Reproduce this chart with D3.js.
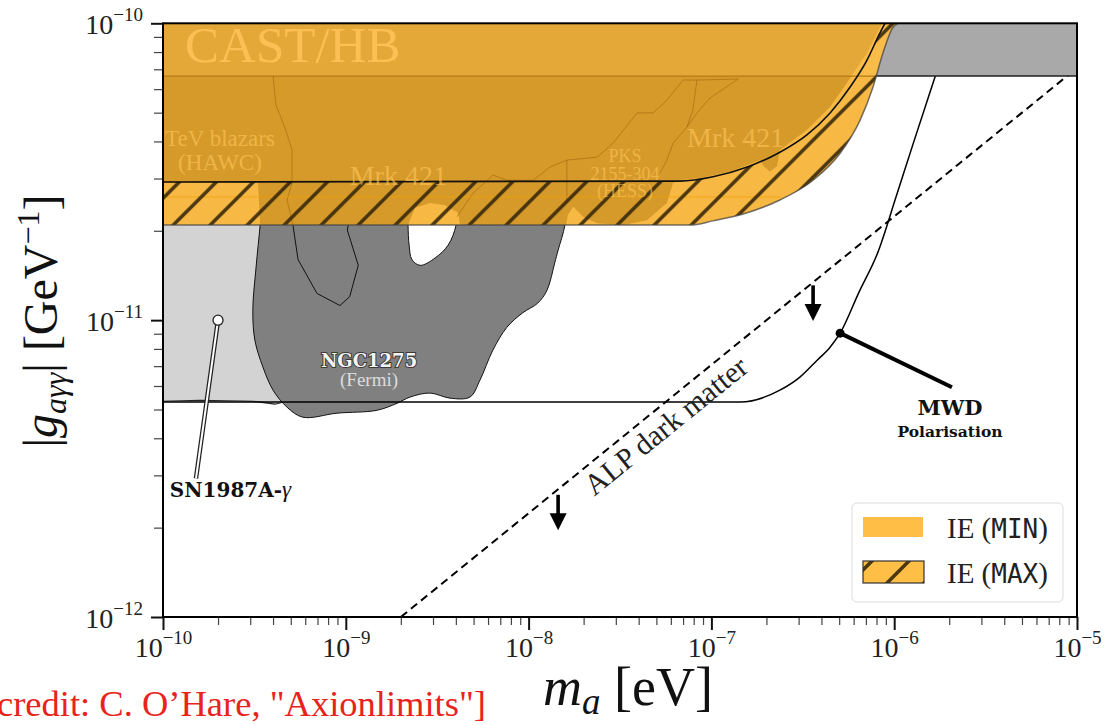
<!DOCTYPE html>
<html>
<head>
<meta charset="utf-8">
<script src="https://cdnjs.cloudflare.com/ajax/libs/d3/7.8.5/d3.min.js"></script>
<style>
    body { margin: 0; background: #fff; }
</style>
</head>
<body>
<div class="canvas"></div>
<script>
// ---- data (mass in eV, coupling in GeV^-1) ----
const xMajorTicks = [1e-10, 1e-9, 1e-8, 1e-7, 1e-6, 1e-5];
const xTickLabels = ['−10', '−9', '−8', '−7', '−6', '−5'];
const yMajorTicks = [1e-12, 1e-11, 1e-10];
const yTickLabels = ['−12', '−11', '−10'];

// CAST / HB band lower edge
const castCoupling = 6.64e-11;

// IE (MAX) lower boundary
const maxMass = [1e-10, 7.63e-8, 1.02e-7, 1.57e-7, 2.37e-7, 3.6e-7, 5.06e-7, 6.51e-7, 7.66e-7, 8.68e-7, 9.85e-7, 1.05e-6];
const maxCoupling = [2.09e-11, 2.09e-11, 2.16e-11, 2.3e-11, 2.54e-11, 2.96e-11, 3.65e-11, 4.72e-11, 6.1e-11, 7.94e-11, 9.7e-11, 1e-10];

// IE (MIN) lower boundary
const minMass = [1e-10, 6.73e-8, 1.02e-7, 1.57e-7, 2.37e-7, 3.33e-7, 4.46e-7, 5.74e-7, 7.1e-7, 8.36e-7, 8.91e-7];
const minCoupling = [2.92e-11, 2.94e-11, 3.04e-11, 3.28e-11, 3.68e-11, 4.21e-11, 4.99e-11, 6.1e-11, 7.52e-11, 9.28e-11, 1e-10];

// older blazar bounds sitting under the IE regions
const blazarMass = [1e-10, 8.58e-7, 8.36e-7, 7.1e-7, 5.52e-7, 4.46e-7, 3.33e-7, 2.37e-7, 2.29e-7, 2.09e-7, 1.92e-7, 1.85e-7,
    1.26e-7, 8.67e-8, 6.73e-8, 6.17e-8, 5.71e-8, 4.44e-8, 3.28e-8, 2.37e-8, 1.99e-8, 1.75e-8, 1.64e-8, 1.6e-8,
    4.22e-9, 4.11e-9, 3.49e-9, 2.89e-9, 2.39e-9, 2.19e-9, 3.4e-10, 3.31e-10, 1e-10];
const blazarCoupling = [1e-10, 1e-10, 9.7e-11, 7.94e-11, 6.3e-11, 5.22e-11, 4.37e-11, 3.74e-11, 3.31e-11, 3.16e-11, 3.31e-11, 3.46e-11,
    3.16e-11, 3.01e-11, 2.96e-11, 2.9e-11, 2.48e-11, 2.17e-11, 2.09e-11, 2.12e-11, 2.23e-11, 2.41e-11, 2.26e-11, 2.09e-11,
    2.09e-11, 2.3e-11, 2.44e-11, 2.48e-11, 2.39e-11, 2.09e-11, 2.09e-11, 2.9e-11, 2.9e-11];

const hawcMass = [4.0e-10, 4.15e-10, 4.65e-10, 5.08e-10, 5.08e-10, 4.77e-10, 5.14e-10, 5.48e-10, 6.96e-10, 9.29e-10, 1.05e-9, 1.17e-9, 1.02e-9, 1.03e-9];
const hawcCoupling = [6.64e-11, 5.31e-11, 4.44e-11, 3.74e-11, 2.9e-11, 2.54e-11, 2.09e-11, 1.6e-11, 1.23e-11, 1.12e-11, 1.2e-11, 1.53e-11, 2.01e-11, 2.09e-11];

const pksMass = [4.06e-9, 4.97e-9, 6.38e-9, 7.61e-9, 1.06e-8, 1.31e-8, 1.62e-8, 2.37e-8, 2.9e-8, 3.92e-8, 4.8e-8, 5.71e-8, 7.0e-8, 8.34e-8, 1.4e-7];
const pksCoupling = [2.23e-11, 2.68e-11, 3.08e-11, 2.96e-11, 2.96e-11, 3.28e-11, 3.46e-11, 3.54e-11, 3.95e-11, 4.99e-11, 4.99e-11, 5.51e-11, 6.44e-11, 6.44e-11, 6.49e-11];
const mrkMass = [1.4e-7, 9.82e-8, 8.34e-8, 7.35e-8, 6.17e-8, 5.71e-8, 5.24e-8];
const mrkCoupling = [6.49e-11, 5.6e-11, 4.99e-11, 4.47e-11, 3.95e-11, 3.46e-11, 3.13e-11];
const mrkStemMass = [8.34e-8, 7.92e-8, 7.35e-8];
const mrkStemCoupling = [6.44e-11, 5.11e-11, 4.47e-11];
const pksStemMass = [1.62e-8, 1.62e-8];
const pksStemCoupling = [3.46e-11, 2.48e-11];

// SN1987A gamma
const snMass = [1e-10, 4.95e-10, 4.95e-10, 4.1e-10, 3.1e-10, 1.59e-10, 1e-10];
const snCoupling = [1e-10, 1e-10, 5.37e-12, 5.21e-12, 5.33e-12, 5.37e-12, 5.33e-12];

// NGC1275 (Fermi)
const ngcMass = [3.48e-10, 3.4e-10, 3.23e-10, 3.1e-10, 3.18e-10, 3.52e-10, 4.0e-10, 4.77e-10, 5.83e-10, 8.95e-10, 1.48e-9,
    1.91e-9, 2.25e-9, 2.89e-9, 3.72e-9, 4.78e-9, 5.42e-9, 6.38e-9, 7.61e-9, 9.31e-9, 1.12e-8, 1.26e-8, 1.39e-8, 1.45e-8, 1.58e-8, 1.62e-8];
const ngcCoupling = [2.54e-11, 2.09e-11, 1.51e-11, 1.08e-11, 8.57e-12, 6.95e-12, 5.81e-12, 5.09e-12, 4.71e-12, 4.86e-12, 4.97e-12,
    5.25e-12, 5.51e-12, 5.68e-12, 5.46e-12, 5.51e-12, 6.28e-12, 7.93e-12, 9.46e-12, 1.06e-11, 1.14e-11, 1.26e-11, 1.56e-11, 1.72e-11, 2.09e-11, 2.54e-11];
const ngcHoleMass = [2.19e-9, 2.19e-9, 2.22e-9, 2.3e-9, 2.55e-9, 3.08e-9, 3.63e-9, 4.01e-9, 4.11e-9];
const ngcHoleCoupling = [2.54e-11, 2.09e-11, 1.79e-11, 1.6e-11, 1.53e-11, 1.62e-11, 1.79e-11, 2.09e-11, 2.54e-11];

// MWD polarisation
const mwdMass = [1e-10, 1.44e-7, 2.37e-7, 3.05e-7, 3.79e-7, 4.46e-7, 5.06e-7, 6.42e-7, 8.15e-7, 1.023e-6, 1.283e-6, 1.672e-6, 2.087e-6];
const mwdCoupling = [5.3e-12, 5.3e-12, 5.81e-12, 6.43e-12, 7.33e-12, 8.11e-12, 9.04e-12, 1.243e-11, 1.695e-11, 2.598e-11, 4.01e-11, 6.59e-11, 1e-10];
const mwdPoint = [5.06e-7, 9.04e-12];

// ALP dark matter line and arrows
const alpMass = [2e-9, 1e-5];
const alpCoupling = [1e-12, 7.07e-11];
const arrowMass = [1.45e-8, 3.6e-7];
const arrowTop = [2.58e-12, 1.31e-11];
const arrowTip = [1.96e-12, 9.93e-12];

const legendLabels = ['MIN', 'MAX'];

// ---- layout ----
const serif = "'Liberation Serif', 'Times New Roman', serif";
const boldSerif = "'DejaVu Serif', serif";

const svg = d3.select('.canvas')
    .append('svg')
    .attr('width', 1105)
    .attr('height', 725);

const margin = { top: 23.3, right: 28, bottom: 108, left: 163 };
const graphWidth = 1105 - margin.left - margin.right;
const graphHeight = 725 - margin.top - margin.bottom;

const x = d3.scaleLog().domain([1e-10, 1e-5]).range([0, graphWidth]);
const y = d3.scaleLog().domain([1e-12, 1e-10]).range([graphHeight, 0]);

const pts = (ms, gs) => d3.zip(ms, gs);
const line = d3.line().x(d => x(d[0])).y(d => y(d[1]));
const smooth = d3.line().x(d => x(d[0])).y(d => y(d[1])).curve(d3.curveMonotoneX);

const defs = svg.append('defs');
defs.append('clipPath').attr('id', 'plotClip')
    .append('rect').attr('width', graphWidth).attr('height', graphHeight);

// region outlines as closed paths
const maxPath = smooth(pts(maxMass, maxCoupling)) + `L${x(1e-10)},${y(1e-10)}Z`;
const minPath = smooth(pts(minMass, minCoupling)) + `L${x(1e-10)},${y(1e-10)}Z`;

defs.append('clipPath').attr('id', 'maxClip')
    .append('path').attr('d', maxPath);
defs.append('clipPath').attr('id', 'hatchClip')
    .append('path').attr('d', maxPath + ' ' + minPath).attr('clip-rule', 'evenodd');

const hatch = defs.append('pattern')
    .attr('id', 'hatch')
    .attr('patternUnits', 'userSpaceOnUse')
    .attr('width', 37).attr('height', 37)
    .attr('patternTransform', 'translate(-10,0)');
hatch.append('path')
    .attr('d', 'M0,37L37,0M-9,9L9,-9M28,46L46,28')
    .attr('stroke', '#34260a').attr('stroke-opacity', 0.88)
    .attr('stroke-width', 3.6);

const graph = svg.append('g')
    .attr('transform', `translate(${margin.left}, ${margin.top})`);

const plot = graph.append('g').attr('clip-path', 'url(#plotClip)');

// SN1987A
plot.append('path')
    .attr('d', line(pts(snMass, snCoupling)) + 'Z')
    .attr('fill', '#d3d3d3')
    .attr('stroke', '#222').attr('stroke-width', 1.2);

// NGC1275
plot.append('path')
    .attr('d', d3.line().x(d => x(d[0])).y(d => y(d[1])).curve(d3.curveCatmullRomClosed)(pts(ngcMass, ngcCoupling)))
    .attr('fill', '#808080')
    .attr('stroke', '#111').attr('stroke-width', 1);
plot.append('path')
    .attr('d', d3.line().x(d => x(d[0])).y(d => y(d[1])).curve(d3.curveCatmullRom)(pts(ngcHoleMass, ngcHoleCoupling)))
    .attr('fill', '#fff')
    .attr('stroke', '#111').attr('stroke-width', 1);

// HAWC outline inside NGC1275
plot.append('path')
    .attr('d', line(pts(hawcMass, hawcCoupling)))
    .attr('fill', 'none')
    .attr('stroke', '#111').attr('stroke-width', 1);

// ALP dark matter line
plot.append('path')
    .attr('d', line(pts(alpMass, alpCoupling)))
    .attr('fill', 'none')
    .attr('stroke', '#000').attr('stroke-width', 2)
    .attr('stroke-dasharray', '8,5');

// MWD polarisation
plot.append('path')
    .attr('d', smooth(pts(mwdMass, mwdCoupling)))
    .attr('fill', 'none')
    .attr('stroke', '#000').attr('stroke-width', 1.5);

// CAST / HB band
plot.append('rect')
    .attr('x', 0).attr('y', 0)
    .attr('width', graphWidth).attr('height', y(castCoupling))
    .attr('fill', '#a9a9a9');
plot.append('line')
    .attr('x1', 0).attr('x2', graphWidth)
    .attr('y1', y(castCoupling)).attr('y2', y(castCoupling))
    .attr('stroke', '#222').attr('stroke-width', 1.5);

// IE (MAX)
plot.append('path')
    .attr('d', maxPath)
    .attr('fill', '#f8b944');

const inMax = plot.append('g').attr('clip-path', 'url(#maxClip)');

inMax.append('path')
    .attr('d', line(pts(blazarMass, blazarCoupling)) + 'Z')
    .attr('fill', '#d69a2b');

inMax.append('rect')
    .attr('x', 0).attr('y', 0)
    .attr('width', graphWidth).attr('height', y(castCoupling))
    .attr('fill', '#ffc24f').attr('opacity', 0.35);
inMax.append('line')
    .attr('x1', 0).attr('x2', graphWidth)
    .attr('y1', y(castCoupling)).attr('y2', y(castCoupling))
    .attr('stroke', '#b57a16').attr('stroke-width', 1.3);

[[pksMass, pksCoupling], [mrkMass, mrkCoupling], [mrkStemMass, mrkStemCoupling], [pksStemMass, pksStemCoupling]]
    .forEach(([ms, gs]) => {
        inMax.append('path')
            .attr('d', line(pts(ms, gs)))
            .attr('fill', 'none')
            .attr('stroke', '#9a6306').attr('stroke-opacity', 0.55).attr('stroke-width', 1);
    });
inMax.append('path')
    .attr('d', line(pts(hawcMass.slice(0, 7), hawcCoupling.slice(0, 7))))
    .attr('fill', 'none')
    .attr('stroke', '#9a6306').attr('stroke-opacity', 0.55).attr('stroke-width', 1);

inMax.append('line')
    .attr('x1', 0).attr('x2', x(2.4e-7))
    .attr('y1', y(2.6e-11)).attr('y2', y(2.6e-11))
    .attr('stroke', '#f0a000').attr('stroke-opacity', 0.7).attr('stroke-width', 1);

// hatch only where MAX exceeds MIN
plot.append('rect')
    .attr('width', graphWidth).attr('height', graphHeight)
    .attr('fill', 'url(#hatch)')
    .attr('clip-path', 'url(#hatchClip)');

plot.append('path')
    .attr('d', smooth(pts(maxMass, maxCoupling)))
    .attr('fill', 'none')
    .attr('stroke', '#444').attr('stroke-opacity', 0.75).attr('stroke-width', 1.5);
plot.append('path')
    .attr('d', smooth(pts(minMass, minCoupling)))
    .attr('fill', 'none')
    .attr('stroke', '#111').attr('stroke-width', 1.6);

// labels inside the orange regions
const faint = (txt, m, g, size, anchor) => plot.append('text')
    .attr('x', x(m)).attr('y', y(g))
    .attr('text-anchor', anchor)
    .attr('font-family', serif)
    .attr('font-size', size)
    .attr('fill', '#ffc65a')
    .attr('fill-opacity', 0.62)
    .text(txt);

faint('CAST/HB', 1.32e-10, 7.41e-11, 51, 'start').attr('fill-opacity', 0.8);
faint('TeV blazars', 2.05e-10, 3.86e-11, 23, 'middle');
faint('(HAWC)', 2.05e-10, 3.21e-11, 23, 'middle');
faint('Mrk 421', 1.05e-9, 2.85e-11, 28, 'start');
faint('Mrk 421', 7.36e-8, 3.83e-11, 28, 'start');
faint('PKS', 3.37e-8, 3.41e-11, 18, 'middle');
faint('2155-304', 3.37e-8, 2.96e-11, 18, 'middle');
faint('(HESS)', 3.37e-8, 2.6e-11, 18, 'middle');

// NGC1275 label
plot.append('text')
    .attr('x', x(1.34e-9)).attr('y', y(6.95e-12))
    .attr('text-anchor', 'middle')
    .attr('font-family', boldSerif).attr('font-weight', 'bold').attr('font-size', 18)
    .attr('fill', '#f4f4f4').attr('stroke', '#3a3a3a').attr('stroke-width', 2)
    .attr('paint-order', 'stroke')
    .text('NGC1275');
plot.append('text')
    .attr('x', x(1.34e-9)).attr('y', y(6.0e-12))
    .attr('text-anchor', 'middle')
    .attr('font-family', serif).attr('font-size', 19)
    .attr('fill', '#dcdcdc')
    .text('(Fermi)');

// SN1987A marker and pointer
const snPointer = [[1.515e-10, 2.93e-12], [2e-10, 1e-11]];
plot.append('path').attr('d', line(snPointer))
    .attr('stroke', '#222').attr('stroke-width', 4.5).attr('fill', 'none');
plot.append('path').attr('d', line(snPointer))
    .attr('stroke', '#fff').attr('stroke-width', 2).attr('fill', 'none');
plot.append('circle')
    .attr('cx', x(2e-10)).attr('cy', y(1e-11)).attr('r', 5)
    .attr('fill', '#fff').attr('stroke', '#222').attr('stroke-width', 1.3);
const snText = plot.append('text')
    .attr('x', x(1.09e-10)).attr('y', y(2.53e-12))
    .attr('font-family', boldSerif).attr('font-weight', 'bold').attr('font-size', 20)
    .attr('fill', '#111');
snText.append('tspan').text('SN1987A-');
snText.append('tspan').attr('font-family', serif).attr('font-style', 'italic').attr('font-weight', 'normal').attr('font-size', 23).text('γ');

// MWD dot and pointer
plot.append('line')
    .attr('x1', x(mwdPoint[0])).attr('y1', y(mwdPoint[1]))
    .attr('x2', x(2.07e-6)).attr('y2', y(5.94e-12))
    .attr('stroke', '#000').attr('stroke-width', 4);
plot.append('circle')
    .attr('cx', x(mwdPoint[0])).attr('cy', y(mwdPoint[1])).attr('r', 4.5)
    .attr('fill', '#000');
plot.append('text')
    .attr('x', x(2.02e-6)).attr('y', y(4.79e-12))
    .attr('text-anchor', 'middle')
    .attr('font-family', boldSerif).attr('font-weight', 'bold').attr('font-size', 21)
    .attr('fill', '#111')
    .text('MWD');
plot.append('text')
    .attr('x', x(2.02e-6)).attr('y', y(4.04e-12))
    .attr('text-anchor', 'middle')
    .attr('font-family', boldSerif).attr('font-weight', 'bold').attr('font-size', 15.5)
    .attr('fill', '#111')
    .text('Polarisation');

// ALP dark matter arrows and text
arrowMass.forEach((m, i) => {
    const ax = x(m), top = y(arrowTop[i]), tip = y(arrowTip[i]);
    plot.append('line')
        .attr('x1', ax).attr('x2', ax).attr('y1', top).attr('y2', tip - 12)
        .attr('stroke', '#000').attr('stroke-width', 3.6);
    plot.append('path')
        .attr('d', `M${ax - 8.5},${tip - 17}L${ax + 8.5},${tip - 17}L${ax},${tip}Z`)
        .attr('fill', '#000');
});
const alpAngle = Math.atan2(y(alpCoupling[1]) - y(alpCoupling[0]), x(alpMass[1]) - x(alpMass[0])) * 180 / Math.PI;
plot.append('text')
    .attr('transform', `translate(${x(6.1e-8)}, ${y(4.15e-12)}) rotate(${alpAngle})`)
    .attr('text-anchor', 'middle')
    .attr('font-family', serif).attr('font-size', 30)
    .attr('fill', '#222')
    .text('ALP dark matter');

// ---- axes ----
const xAxisGroup = graph.append('g').attr('transform', `translate(0, ${graphHeight})`);
const xMinorGroup = graph.append('g').attr('transform', `translate(0, ${graphHeight})`);
const yAxisGroup = graph.append('g');
const yMinorGroup = graph.append('g');

const minorX = x.ticks().filter(t => !xMajorTicks.some(v => Math.abs(v - t) / v < 1e-6));
const minorY = y.ticks().filter(t => !yMajorTicks.some(v => Math.abs(v - t) / v < 1e-6));

xMinorGroup.call(d3.axisBottom(x).tickValues(minorX).tickSize(8).tickSizeOuter(0).tickFormat(''));
yMinorGroup.call(d3.axisLeft(y).tickValues(minorY).tickSize(9).tickSizeOuter(0).tickFormat(''));
xAxisGroup.call(d3.axisBottom(x).tickValues(xMajorTicks).tickSize(13).tickSizeOuter(0).tickFormat(''));
yAxisGroup.call(d3.axisLeft(y).tickValues(yMajorTicks).tickSize(12).tickSizeOuter(0).tickFormat(''));

[xMinorGroup, yMinorGroup].forEach(g => {
    g.selectAll('.tick line').attr('stroke', '#444').attr('stroke-width', 1.2);
    g.select('.domain').remove();
});
[xAxisGroup, yAxisGroup].forEach(g => {
    g.selectAll('.tick line').attr('stroke', '#111').attr('stroke-width', 2);
    g.select('.domain').remove();
});

xAxisGroup.selectAll('.tick text').each(function (d, i) {
    const t = d3.select(this)
        .attr('y', 40).attr('dy', null)
        .attr('font-family', serif).attr('font-size', 28).attr('fill', '#222');
    t.append('tspan').text('10');
    t.append('tspan').attr('dy', -13).attr('font-size', 19).text(xTickLabels[i]);
});
yAxisGroup.selectAll('.tick text').each(function (d, i) {
    const t = d3.select(this)
        .attr('x', -20).attr('y', 10).attr('dy', null)
        .attr('font-family', serif).attr('font-size', 28).attr('fill', '#222');
    t.append('tspan').text('10');
    t.append('tspan').attr('dy', -13).attr('font-size', 19).text(yTickLabels[i]);
});

// frame
graph.append('rect')
    .attr('width', graphWidth).attr('height', graphHeight)
    .attr('fill', 'none')
    .attr('stroke', '#000').attr('stroke-width', 2);

// ---- legend ----
const legend = svg.append('g');
legend.append('rect')
    .attr('x', 852).attr('y', 503).attr('width', 211).attr('height', 99).attr('rx', 5)
    .attr('fill', '#fff').attr('fill-opacity', 0.85)
    .attr('stroke', '#dcdcdc').attr('stroke-width', 1);
legend.append('rect')
    .attr('x', 863).attr('y', 517).attr('width', 60).attr('height', 20)
    .attr('fill', '#ffbf47');
legend.append('rect')
    .attr('x', 863).attr('y', 561).attr('width', 61).attr('height', 22)
    .attr('fill', '#ffbf47');
legend.append('rect')
    .attr('x', 863).attr('y', 561).attr('width', 61).attr('height', 22)
    .attr('fill', 'url(#hatch)')
    .attr('stroke', '#333').attr('stroke-width', 1.2);
legendLabels.forEach((lab, i) => {
    const t = legend.append('text')
        .attr('x', 947).attr('y', 538 + i * 45)
        .attr('font-family', serif).attr('font-size', 29).attr('fill', '#222');
    t.append('tspan').text('IE (');
    t.append('tspan').attr('font-family', "'DejaVu Sans Mono', monospace").attr('font-size', 26).text(lab);
    t.append('tspan').text(')');
});

// ---- axis titles ----
const xTitle = svg.append('text')
    .attr('x', 543).attr('y', 705)
    .attr('font-family', serif).attr('font-size', 54).attr('fill', '#111');
xTitle.append('tspan').attr('font-style', 'italic').text('m');
xTitle.append('tspan').attr('font-style', 'italic').attr('font-size', 37).attr('dy', 9).text('a');
xTitle.append('tspan').attr('dy', -9).text(' [eV]');

const yTitle = svg.append('text')
    .attr('transform', 'translate(57, 321) rotate(-90)')
    .attr('text-anchor', 'middle')
    .attr('font-family', serif).attr('font-size', 48).attr('fill', '#111');
yTitle.append('tspan').text('|');
yTitle.append('tspan').attr('font-style', 'italic').text('g');
yTitle.append('tspan').attr('font-style', 'italic').attr('font-size', 32).attr('dy', 9).text('aγγ');
yTitle.append('tspan').attr('dy', -9).text('| [GeV');
yTitle.append('tspan').attr('font-size', 32).attr('dy', -18).text('−1');
yTitle.append('tspan').attr('dy', 18).text(']');

// credit
svg.append('text')
    .attr('x', 486).attr('y', 716)
    .attr('text-anchor', 'end')
    .attr('font-family', serif).attr('font-size', 36.5).attr('fill', '#e8231b')
    .text('[credit: C. O’Hare, "Axionlimits"]');
</script>
</body>
</html>
